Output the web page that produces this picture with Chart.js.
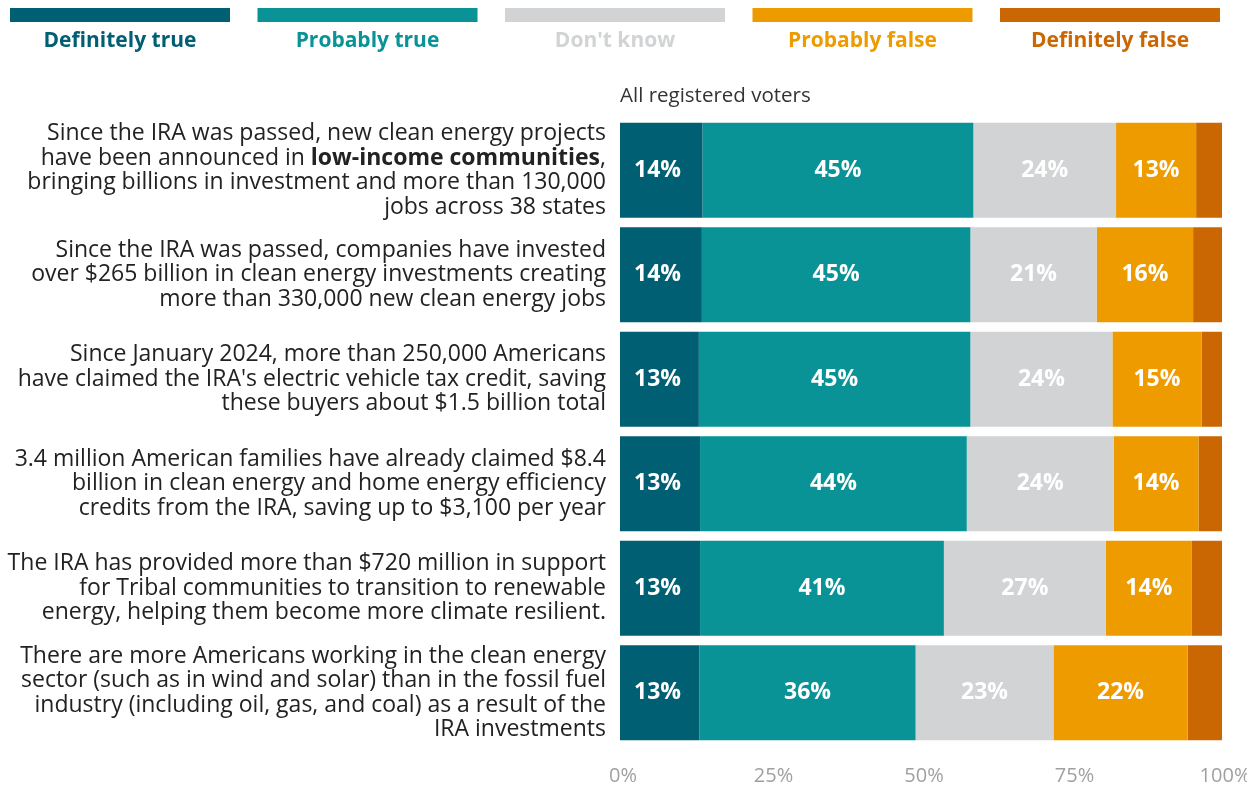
<!DOCTYPE html>
<html><head><meta charset="utf-8">
<script src="https://cdn.jsdelivr.net/npm/chart.js@4/dist/chart.umd.min.js"></script>
<style>html,body{margin:0;padding:0;background:#fff;}#wrap{position:relative;width:1247px;height:785px;}</style>
</head><body><div id="wrap"><canvas id="c" width="1247" height="785"></canvas></div>
<script>
const categories = [
  ["Since the IRA was passed, new clean energy projects", "have been announced in **low-income communities**,", "bringing billions in investment and more than 130,000", "jobs across 38 states"],
  ["Since the IRA was passed, companies have invested", "over $265 billion in clean energy investments creating", "more than 330,000 new clean energy jobs"],
  ["Since January 2024, more than 250,000 Americans", "have claimed the IRA's electric vehicle tax credit, saving", "these buyers about $1.5 billion total"],
  ["3.4 million American families have already claimed $8.4", "billion in clean energy and home energy efficiency", "credits from the IRA, saving up to $3,100 per year"],
  ["The IRA has provided more than $720 million in support", "for Tribal communities to transition to renewable", "energy, helping them become more climate resilient."],
  ["There are more Americans working in the clean energy", "sector (such as in wind and solar) than in the fossil fuel", "industry (including oil, gas, and coal) as a result of the", "IRA investments"]
];
const seriesNames = ["Definitely true", "Probably true", "Don't know", "Probably false", "Definitely false"];
const definitelyTrue  = [13.7, 13.6, 13.1, 13.3, 13.3, 13.2];
const probablyTrue    = [45.0, 44.6, 45.1, 44.3, 40.5, 35.9];
const dontKnow        = [23.7, 21.0, 23.6, 24.4, 26.9, 22.9];
const probablyFalse   = [13.3, 16.0, 14.8, 14.1, 14.3, 22.3];
const definitelyFalse = [4.3, 4.8, 3.4, 3.9, 5.0, 5.7];
const xTickValues = [0, 25, 50, 75, 100];
const subtitle = "All registered voters";
const seriesColors = ["#005F73", "#0A9396", "#D1D3D4", "#EE9B00", "#CA6702"];

const FONT = "'Open Sans', Lato, sans-serif";
const allSeries = [definitelyTrue, probablyTrue, dontKnow, probablyFalse, definitelyFalse];

const legendPlugin = {
  id: 'customLegend',
  afterDraw(chart) {
    const ctx = chart.ctx;
    ctx.save();
    seriesNames.forEach((name, i) => {
      const x0 = 10 + i * 247.5;
      ctx.fillStyle = seriesColors[i];
      ctx.fillRect(x0, 8, 220, 14);
      ctx.font = "bold 21px " + FONT;
      ctx.textAlign = 'center';
      ctx.textBaseline = 'middle';
      ctx.fillText(name, x0 + 110, 41);
    });
    ctx.font = "20.5px " + FONT;
    ctx.fillStyle = '#333333';
    ctx.textAlign = 'left';
    ctx.textBaseline = 'middle';
    ctx.fillText(subtitle, chart.chartArea.left, 96);
    ctx.restore();
  }
};

const yLabelPlugin = {
  id: 'yLabels',
  afterDraw(chart) {
    const ctx = chart.ctx;
    const yScale = chart.scales.y;
    const right = chart.chartArea.left - 14;
    const lh = 24.5;
    ctx.save();
    ctx.fillStyle = '#222222';
    ctx.textBaseline = 'middle';
    ctx.textAlign = 'left';
    categories.forEach((lines, i) => {
      const yc = yScale.getPixelForValue(i);
      const start = yc - (lines.length - 1) / 2 * lh;
      lines.forEach((line, j) => {
        const parts = line.split('**');
        let total = 0;
        parts.forEach((p, k) => {
          ctx.font = (k % 2 ? 'bold ' : '') + '23px ' + FONT;
          total += ctx.measureText(p).width;
        });
        let x = right - total;
        parts.forEach((p, k) => {
          ctx.font = (k % 2 ? 'bold ' : '') + '23px ' + FONT;
          ctx.fillText(p, x, start + j * lh);
          x += ctx.measureText(p).width;
        });
      });
    });
    ctx.restore();
  }
};

const valueLabelPlugin = {
  id: 'valueLabels',
  afterDatasetsDraw(chart) {
    const ctx = chart.ctx;
    ctx.save();
    ctx.fillStyle = '#ffffff';
    ctx.font = 'bold 23px ' + FONT;
    ctx.textBaseline = 'middle';
    for (let d = 0; d < 4; d++) {
      const meta = chart.getDatasetMeta(d);
      meta.data.forEach((el, i) => {
        const v = chart.data.datasets[d].data[i];
        const label = Math.round(v) + '%';
        if (d === 0) {
          ctx.textAlign = 'left';
          ctx.fillText(label, Math.min(el.x, el.base) + 14, el.y);
        } else {
          ctx.textAlign = 'center';
          ctx.fillText(label, (el.x + el.base) / 2, el.y);
        }
      });
    }
    ctx.restore();
  }
};

new Chart(document.getElementById('c'), {
  type: 'bar',
  data: {
    labels: categories.map((c, i) => i),
    datasets: seriesNames.map((name, i) => ({
      label: name,
      data: allSeries[i],
      backgroundColor: seriesColors[i],
      borderWidth: 0,
      categoryPercentage: 1,
      barPercentage: 0.91
    }))
  },
  options: {
    indexAxis: 'y',
    responsive: false,
    animation: false,
    layout: { padding: { left: 620, right: 25, top: 118, bottom: 0 } },
    plugins: { legend: { display: false }, tooltip: { enabled: false } },
    scales: {
      x: {
        stacked: true, min: 0, max: 100,
        afterBuildTicks(scale) { scale.ticks = xTickValues.map(v => ({ value: v })); },
        afterFit(scale) { scale.height = 40; scale.paddingLeft = 0; scale.paddingRight = 0; },
        grid: { display: false, drawTicks: false },
        border: { display: false },
        ticks: {
          padding: 21,
          labelOffset: 3,
          color: '#A0A0A0',
          font: { family: FONT, size: 20, lineHeight: 1 },
          callback: v => v + '%'
        }
      },
      y: { stacked: true, display: false }
    }
  },
  plugins: [legendPlugin, yLabelPlugin, valueLabelPlugin]
});
</script></body></html>
